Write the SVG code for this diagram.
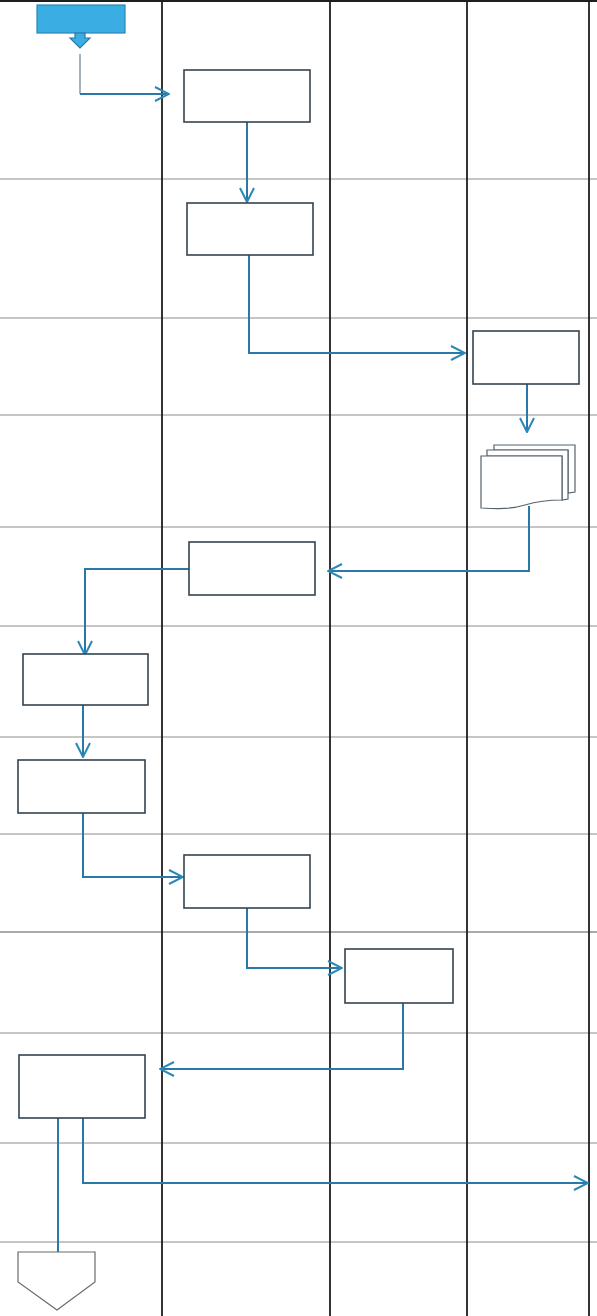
<svg xmlns="http://www.w3.org/2000/svg" width="597" height="1316" viewBox="0 0 597 1316">
<style>
.hl{stroke:#8c8c8c;stroke-width:1;fill:none}
.vl{stroke:#1e1e1e;stroke-width:1.8;fill:none}
.box{fill:#fff;stroke:#34444f;stroke-width:1.6}
.doc{fill:#fff;stroke:#55636d;stroke-width:1.2}
.cn{stroke:#2a78a8;stroke-width:2;fill:none}
</style>
<defs>
<marker id="ah" viewBox="0 0 16 16" refX="15" refY="8" markerWidth="16" markerHeight="16" markerUnits="userSpaceOnUse" orient="auto">
<path d="M1,1 L15,8 L1,15" fill="none" stroke="#2a88b8" stroke-width="2"/>
</marker>
</defs>
<rect x="0" y="0" width="597" height="1316" fill="#fff"/>
<g id="grid">
<line class="vl" x1="0" y1="1" x2="597" y2="1"/>
<g class="hl">
<line x1="0" y1="179" x2="597" y2="179"/>
<line x1="0" y1="318" x2="597" y2="318"/>
<line x1="0" y1="415" x2="597" y2="415"/>
<line x1="0" y1="527" x2="597" y2="527"/>
<line x1="0" y1="626" x2="597" y2="626"/>
<line x1="0" y1="737" x2="597" y2="737"/>
<line x1="0" y1="834" x2="597" y2="834"/>
<line x1="0" y1="932" x2="597" y2="932" stroke="#555"/>
<line x1="0" y1="1033" x2="597" y2="1033"/>
<line x1="0" y1="1143" x2="597" y2="1143"/>
<line x1="0" y1="1242" x2="597" y2="1242"/>
</g>
<line class="vl" x1="162" y1="0" x2="162" y2="1316"/>
<line class="vl" x1="330" y1="0" x2="330" y2="1316"/>
<line class="vl" x1="467" y1="0" x2="467" y2="1316"/>
<line class="vl" x1="589" y1="0" x2="589" y2="1316"/>
</g>
<g id="connectors">
<line x1="80" y1="54" x2="80" y2="94" stroke="#8a9aa5" stroke-width="1.5"/>
<polyline class="cn" points="80,94 169,94" marker-end="url(#ah)"/>
<polyline class="cn" points="247,122 247,202" marker-end="url(#ah)"/>
<polyline class="cn" points="249,255 249,353 465,353" marker-end="url(#ah)"/>
<polyline class="cn" points="527,384 527,432" marker-end="url(#ah)"/>
<polyline class="cn" points="529,506 529,571 328,571" marker-end="url(#ah)"/>
<polyline class="cn" points="189,569 85,569 85,655" marker-end="url(#ah)"/>
<polyline class="cn" points="83,705 83,757" marker-end="url(#ah)"/>
<polyline class="cn" points="83,813 83,877 183,877" marker-end="url(#ah)"/>
<polyline class="cn" points="247,908 247,968 342,968" marker-end="url(#ah)"/>
<polyline class="cn" points="403,1003 403,1069 160,1069" marker-end="url(#ah)"/>
<polyline class="cn" points="58,1118 58,1252"/>
<polyline class="cn" points="83,1118 83,1183 588,1183" marker-end="url(#ah)"/>
</g>
<g id="start">
<rect x="37" y="5" width="88" height="28" fill="#3aaee2" stroke="#2a86b8" stroke-width="1.2"/>
<polygon points="75,33 75,38 70,38 80,48 90,38 85,38 85,33" fill="#3aaee2" stroke="#2a78a8" stroke-width="1.2"/>
</g>
<g id="n1"><rect class="box" x="184" y="70" width="126" height="52"/></g>
<g id="n2"><rect class="box" x="187" y="203" width="126" height="52"/></g>
<g id="n3"><rect class="box" x="473" y="331" width="106" height="53"/></g>
<g id="n4">
<path class="doc" d="M494,445 L575,445 L575,492 L568,493 L568,450 L494,450 Z"/>
<path class="doc" d="M487,450 L568,450 L568,499 L562,500 L562,456 L487,456 Z"/>
<path class="doc" d="M481,456 L562,456 L562,500 C545,500 535,502 525,505 C512,509 500,509 481,508 Z"/>
</g>
<g id="n5"><rect class="box" x="189" y="542" width="126" height="53"/></g>
<g id="n6"><rect class="box" x="23" y="654" width="125" height="51"/></g>
<g id="n7"><rect class="box" x="18" y="760" width="127" height="53"/></g>
<g id="n8"><rect class="box" x="184" y="855" width="126" height="53"/></g>
<g id="n9"><rect class="box" x="345" y="949" width="108" height="54"/></g>
<g id="n10"><rect class="box" x="19" y="1055" width="126" height="63"/></g>
<g id="end"><polygon points="18,1252 95,1252 95,1282 57,1310 18,1282" fill="#fff" stroke="#6a6a6a" stroke-width="1.2"/></g>
</svg>
